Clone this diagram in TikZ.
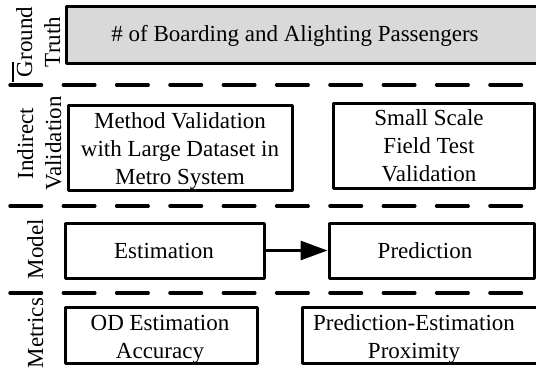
\documentclass[tikz,border=0pt]{standalone}
\usepackage{fontspec}
\setmainfont{Liberation Serif}
\usetikzlibrary{arrows.meta}
\definecolor{boxgray}{RGB}{217,217,217}
\begin{document}
\begin{tikzpicture}[x=1pt,y=-1pt,
  every node/.style={font=\fontsize{23}{28}\selectfont, inner sep=0pt},
  box/.style={draw=black, line width=3pt, line join=round, inner sep=0pt},
  txt/.style={anchor=base, align=center},
  lbl/.style={rotate=90, anchor=base, align=center},
  dashline/.style={line width=3.5pt, line cap=round, dash pattern=on 31.5pt off 21.83pt},
  arrowline/.style={line width=3pt, -{Triangle[length=27pt,width=19pt]}}]
\useasboundingbox (0,0) rectangle (536,378);

% boxes
\node[box, fill=boxgray, minimum width=472pt, minimum height=57pt] (gt) at (302,34.5) {};
\node[box, minimum width=224pt, minimum height=85pt] (meth) at (180,147.5) {};
\node[box, minimum width=201pt, minimum height=85pt] (small) at (433.5,145.5) {};
\node[box, minimum width=199pt, minimum height=55pt] (est) at (164.5,250.5) {};
\node[box, minimum width=205pt, minimum height=55pt] (pred) at (431.5,250.5) {};
\node[box, minimum width=192pt, minimum height=56pt] (od) at (161,335) {};
\node[box, minimum width=243pt, minimum height=56pt] (pe) at (423.5,335) {};

% texts (base anchor = baseline of the last line)
\node[txt] (gtt) at (295,41) {\# of Boarding and Alighting Passengers};
\node[txt] (metht) at (180,184) {Method Validation\\with Large Dataset in\\Metro System};
\node[txt] (smallt) at (429,181) {Small Scale\\Field Test\\Validation};
\node[txt] (estt) at (164,258) {Estimation};
\node[txt] (predt) at (425,258) {Prediction};
\node[txt] (odt) at (160,358) {OD Estimation\\Accuracy};
\node[txt] (pet) at (414,358) {Prediction-Estimation\\Proximity};

% arrow
\draw[arrowline] (est.east) -- (pred.west);

% row labels
\node[lbl] (l1) at (60,42) {Ground\\Truth};
\node[lbl] (l2) at (61,143.5) {Indirect\\Validation};
\node[lbl] (l3) at (43,249) {Model};
\node[lbl] (l4) at (43,333) {Metrics};

% separators
\coordinate (d1a) at (10,85);  \coordinate (d1b) at (545,85);
\coordinate (d2a) at (10,206); \coordinate (d2b) at (545,206);
\coordinate (d3a) at (10,293); \coordinate (d3b) at (545,293);
\draw[dashline] (d1a) -- (d1b);
\draw[dashline] (d2a) -- (d2b);
\draw[dashline] (d3a) -- (d3b);

% small mark beside the first label
\coordinate (m1a) at (13,62); \coordinate (m1b) at (13,82);
\draw[line width=1.5pt] (m1a) -- (m1b);
\end{tikzpicture}
\end{document}
